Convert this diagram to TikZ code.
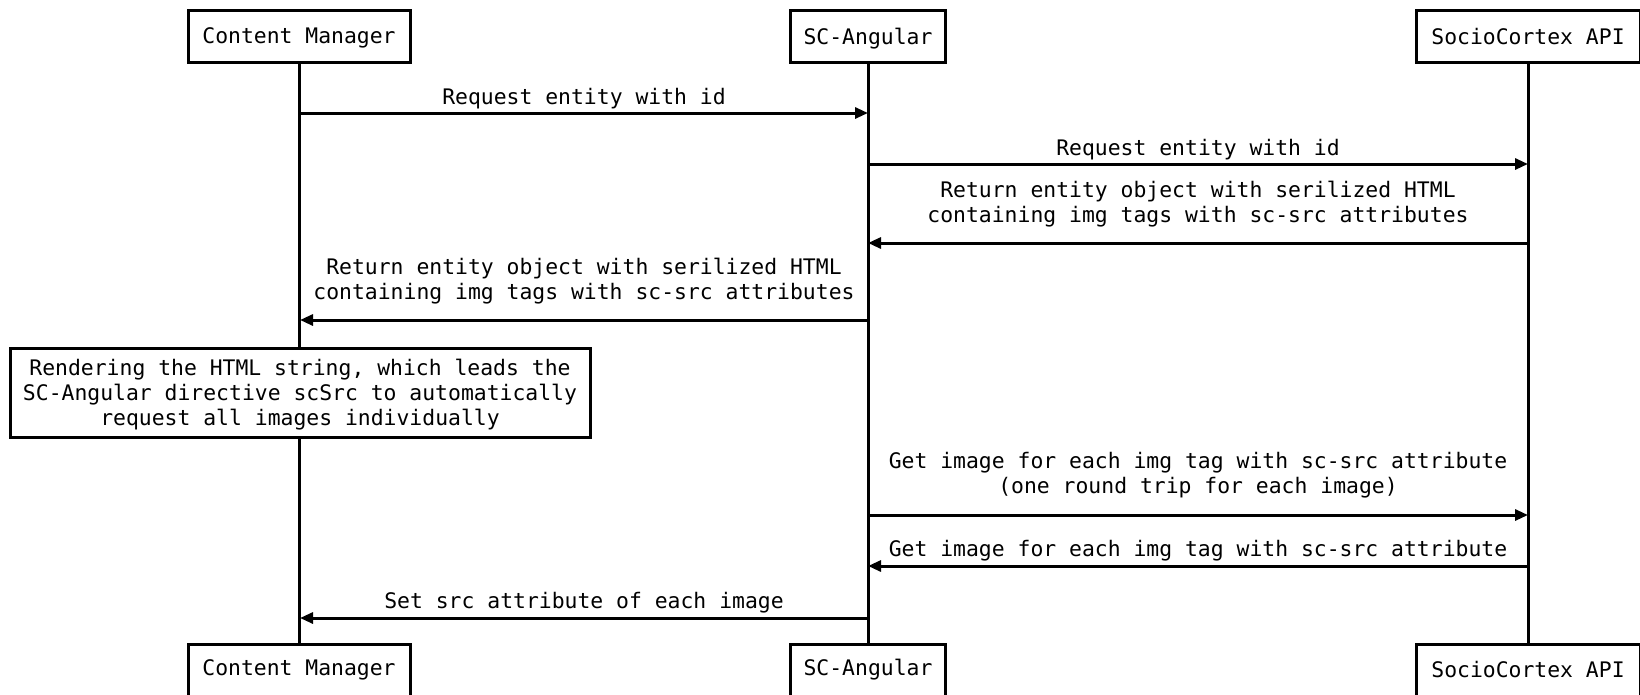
\documentclass[tikz,border=0pt]{standalone}
\usepackage{fontspec}
\newfontfamily\monofam{DejaVu Sans Mono}
\usetikzlibrary{arrows.meta}
\begin{document}
\begin{tikzpicture}[x=1pt,y=-1pt,
  every node/.style={font=\monofam\fontsize{21.4}{25}\selectfont, inner sep=0pt},
  actor/.style={draw, line width=3pt, fill=white, minimum height=52pt},
  life/.style={line width=3pt},
  msg/.style={line width=3pt, -{Triangle[length=13pt,width=11pt]}},
  lbl/.style={align=center, fill=white, inner sep=2pt}]
\useasboundingbox (0,0) rectangle (1640,694);
% actors
\node[actor, text depth=0pt, minimum width=222pt] (cmT) at (299,36) {Content Manager};
\node[actor, text depth=0pt, minimum width=155pt] (scT) at (868,36) {SC-Angular};
\node[actor, text depth=0pt, minimum width=224pt] (apT) at (1528,36) {SocioCortex API};
\node[actor, minimum width=222pt] (cmB) at (299,670) {Content Manager};
\node[actor, minimum width=155pt] (scB) at (868,670) {SC-Angular};
\node[actor, minimum width=224pt] (apB) at (1528,670) {SocioCortex API};
% lifelines
\draw[life] (cmT.south) -- (cmB.north);
\draw[life] (scT.south) -- (scB.north);
\draw[life] (apT.south) -- (apB.north);
% coordinates on lifelines
\coordinate (cm1) at (300,113);
\coordinate (sc1) at (868,113);
\coordinate (sc2) at (868,164);
\coordinate (ap2) at (1528,164);
\coordinate (ap3) at (1528,243);
\coordinate (sc3) at (868,243);
\coordinate (sc4) at (868,320);
\coordinate (cm4) at (300,320);
\coordinate (sc5) at (868,515);
\coordinate (ap5) at (1528,515);
\coordinate (ap6) at (1528,566);
\coordinate (sc6) at (868,566);
\coordinate (sc7) at (868,618);
\coordinate (cm7) at (300,618);
% messages
\draw[msg] (cm1) -- (sc1);
\node[lbl] (l1) at (584,99) {Request entity with id};
\draw[msg] (sc2) -- (ap2);
\node[lbl] (l2) at (1198,150) {Request entity with id};
\draw[msg] (ap3) -- (sc3);
\node[lbl] (l3) at (1198,204) {Return entity object with serilized HTML\\containing img tags with sc-src attributes};
\draw[msg] (sc4) -- (cm4);
\node[lbl] (l4) at (584,281) {Return entity object with serilized HTML\\containing img tags with sc-src attributes};
% note box
\node[draw, line width=3pt, fill=white, align=center, text depth=0pt, minimum width=580pt, minimum height=89pt] (note) at (300,392.5)
  {Rendering the HTML string, which leads the\\SC-Angular directive scSrc to automatically\\request all images individually};
\draw[msg] (sc5) -- (ap5);
\node[lbl] (l5) at (1198,475) {Get image for each img tag with sc-src attribute\\(one round trip for each image)};
\draw[msg] (ap6) -- (sc6);
\node[lbl] (l6) at (1198,551) {Get image for each img tag with sc-src attribute};
\draw[msg] (sc7) -- (cm7);
\node[lbl] (l7) at (584,603) {Set src attribute of each image};
\end{tikzpicture}
\end{document}
